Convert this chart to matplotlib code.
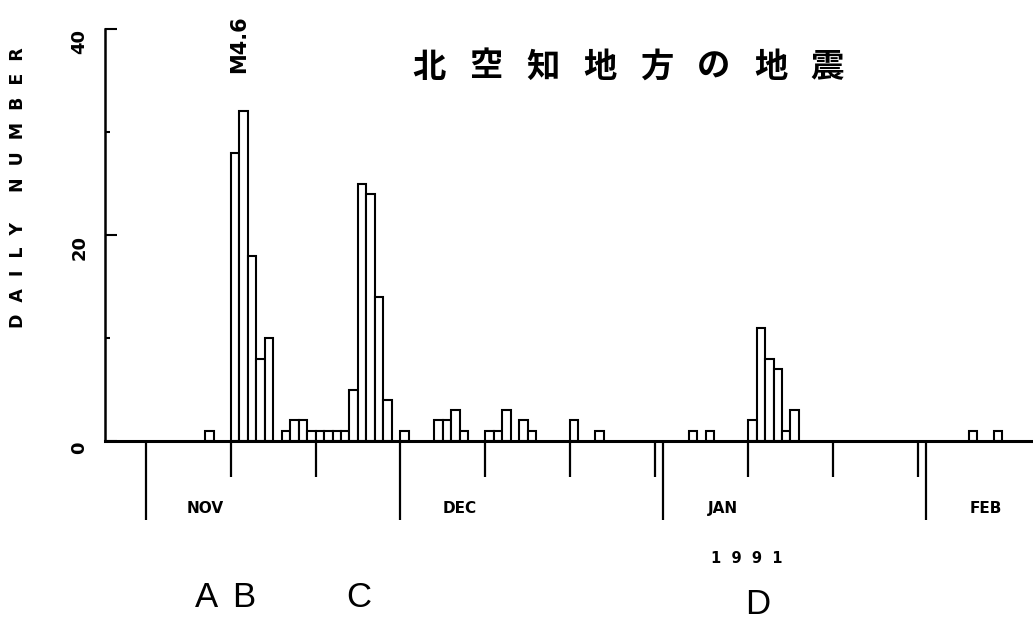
import numpy as np
import matplotlib
matplotlib.use("Agg")
import matplotlib.pyplot as plt

# dias contados desde el 1 de noviembre de 1990
days = [7, 10, 11, 12, 13, 14, 16, 17, 18, 19, 20, 21, 22, 23, 24, 25, 26, 27, 28,
        30, 34, 35, 36, 37, 40, 41, 42, 44, 45, 50, 53,
        64, 66, 71, 72, 73, 74, 75, 76, 97, 100]
counts = [1, 28, 32, 18, 8, 10, 1, 2, 2, 1, 1, 1, 1, 1, 5, 25, 24, 14, 4,
          1, 2, 2, 3, 1, 1, 1, 3, 2, 1, 2, 1,
          1, 1, 2, 11, 8, 7, 1, 3, 1, 1]

month_names = ["NOV", "DEC", "JAN", "FEB"]
month_start = [0, 30, 61, 92]
ten_days = [10, 20, 40, 50, 60, 71, 81, 91]

swarm_names = ["A", "B", "C", "D"]
swarm_days = [7.1, 11.5, 25.1, 72.1]

title = "北空知地方の地震"

W, H = 1033, 628
fig = plt.figure(figsize=(W / 100, H / 100), dpi=100)
ax = fig.add_axes([105 / W, 1 - 441 / H, 1 - 105 / W, (441 - 29) / H])

ax.bar(days, counts, width=1, align="edge", color="white",
       edgecolor="black", linewidth=1.5)

ax.set_xlim(-4.83, 104.6)
ax.set_ylim(0, 40)

for s in ["top", "right"]:
    ax.spines[s].set_visible(False)
ax.spines["bottom"].set_linewidth(2.2)
ax.spines["left"].set_linewidth(1.8)

# eje x: marcas largas = inicio de mes, cortas = dias 11, 21, 31
ax.set_xticks(month_start)
ax.set_xticks(ten_days, minor=True)
ax.tick_params(axis="x", which="major", direction="out", length=57, width=1.6,
               labelbottom=False)
ax.tick_params(axis="x", which="minor", direction="out", length=26, width=1.6,
               labelbottom=False)

# eje y
ax.set_yticks([0, 20, 40])
ax.set_yticks([10, 30], minor=True)
ax.set_yticklabels(["0", "20", "40"], rotation=90, va="top",
                   fontsize=13, fontweight="bold")
ax.tick_params(axis="y", which="major", direction="in", length=8.6, width=1.5, pad=12)
ax.tick_params(axis="y", which="minor", direction="in", length=3.6, width=1.5)

for name, d in zip(month_names, month_start):
    ax.text(d + 7, -6.6, name, ha="center", va="center", fontsize=11,
            fontweight="bold", clip_on=False)

ax.text(70.8, -11.4, "1  9  9  1", ha="center", va="center", fontsize=10.5,
        fontweight="bold", clip_on=False)

for name, d in zip(swarm_names, swarm_days):
    yy = -15.9 if name == "D" else -15.2
    ax.text(d, yy, name, ha="center", va="center", fontsize=25,
            family="Liberation Sans", clip_on=False)

ax.text(11.0, 38.5, "M4.6", rotation=90, ha="center", va="center",
        fontsize=15, fontweight="bold", clip_on=False)

fig.text(18 / W, 1 - 188 / H, "D  A  I  L  Y     N  U  M  B  E  R", rotation=90,
         ha="center", va="center", fontsize=12.5, fontweight="bold")

# titulo con letras espaciadas
x0, x1 = 429, 827.5
for i, ch in enumerate(title):
    xx = x0 + i * (x1 - x0) / (len(title) - 1)
    fig.text(xx / W, 1 - 67 / H, ch, ha="center", va="center", fontsize=24,
             fontweight="bold", family=["Noto Sans CJK JP", "DejaVu Sans"])

fig.savefig("out.png", dpi=100)
